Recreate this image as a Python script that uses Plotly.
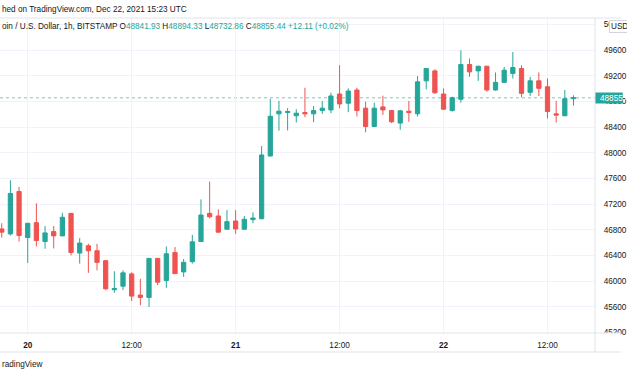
import pandas as pd
import plotly.graph_objects as go

# ---- data (BTC/USD 1h, Bitstamp) ----
start_time = "2021-12-19 21:00"
opens = [46813, 46735, 47396, 46678, 46910, 46616, 46771, 46704, 47055, 46437,
         46550, 46473, 46318, 45865, 45921, 46112, 45782, 45746, 46354, 46009,
         46446, 46143, 46302, 46616, 47055, 47014, 46808, 46937, 46808, 46957,
         46971, 47949, 48606, 48626, 48575, 48626, 48606, 48657, 48667, 48915,
         48771, 48977, 48694, 48409, 48714, 48657, 48462, 48647, 48606, 49120,
         49275, 48915, 48657, 48833, 49374, 49275, 49348, 48977, 49096, 49235,
         49312, 48941, 49120, 49028, 48606, 48575, 48841.93]
highs = [46901, 47570, 47467, 46905, 47210, 46859, 46859, 47065, 47062, 46669,
         46581, 46581, 46322, 46153, 46168, 46137, 46035, 46357, 46357, 46539,
         46530, 46344, 46720, 47272, 47550, 47117, 47106, 47106, 47014, 47071,
         48104, 48841, 48807, 48694, 48678, 49012, 48729, 48807, 48935, 49363,
         49003, 49012, 48796, 48780, 48889, 48667, 48667, 48807, 49193, 49317,
         49301, 49003, 48873, 49595, 49467, 49352, 49352, 49250, 49337, 49569,
         49363, 49182, 49250, 49157, 48807, 48977, 48894.33]
lows = [46678, 46709, 46616, 46282, 46539, 46503, 46508, 46700, 46400, 46272,
        46128, 46168, 45859, 45819, 45859, 45689, 45622, 45596, 45936, 45896,
        46112, 46066, 46272, 46612, 46978, 46757, 46802, 46735, 46802, 46901,
        46965, 47945, 48343, 48347, 48471, 48555, 48477, 48606, 48616, 48694,
        48632, 48564, 48317, 48400, 48590, 48462, 48358, 48482, 48564, 48987,
        48915, 48667, 48641, 48780, 49182, 49120, 48950, 48967, 49092, 49157,
        48863, 48884, 48884, 48533, 48471, 48571, 48732.86]
closes = [46762, 47365, 46709, 46901, 46632, 46751, 46704, 46994, 46446, 46592,
          46473, 46292, 45880, 45885, 46128, 45766, 45746, 46354, 45983, 46426,
          46116, 46292, 46612, 47029, 47003, 46762, 46926, 46813, 46963, 46983,
          47965, 48568, 48647, 48641, 48616, 48606, 48657, 48694, 48884, 48760,
          48961, 48657, 48409, 48694, 48667, 48482, 48652, 48626, 49105, 49312,
          48935, 48678, 48858, 49374, 49260, 49348, 48977, 49096, 49286, 49328,
          48925, 49120, 49003, 48641, 48586, 48842, 48855.44]

x_tick_times = ["2021-12-20 00:00", "2021-12-20 12:00", "2021-12-21 00:00",
                "2021-12-21 12:00", "2021-12-22 00:00", "2021-12-22 12:00"]
x_tick_labels = ["<b>20</b>", "12:00", "<b>21</b>", "12:00", "<b>22</b>", "12:00"]
y_tick_values = [45200, 45600, 46000, 46400, 46800, 47200, 47600, 48000,
                 48400, 48800, 49200, 49600, 50000]
y_tick_labels = [str(v) for v in y_tick_values]
last_price = 48855.44

times = pd.date_range(start_time, periods=len(opens), freq="h")

UP = "#26a69a"
DOWN = "#ef5350"
TXT = "#131722"
GRID = "#f0f3fa"
SEP = "#e0e3eb"
FONT = "Liberation Sans"
FS = 8.2

W, H = 627, 376
L, R, T, B = 0, 26, 18, 43
PW, PH = W - L - R, H - T - B


def px_x(px):
    return (px - L) / PW


def px_y(py):
    return (H - B - py) / PH


fig = go.Figure(go.Candlestick(
    x=times, open=opens, high=highs, low=lows, close=closes,
    increasing=dict(line=dict(color=UP, width=1), fillcolor=UP),
    decreasing=dict(line=dict(color=DOWN, width=1), fillcolor=DOWN),
    whiskerwidth=0, hoverinfo="skip", showlegend=False,
))

shapes = [
    dict(type="line", xref="paper", yref="y", x0=0, x1=1, y0=last_price, y1=last_price,
         line=dict(color=UP, width=1, dash="dot"), opacity=0.6, layer="below"),
    dict(type="rect", xref="paper", yref="paper", x0=1, x1=px_x(W), y0=px_y(352), y1=0,
         fillcolor="white", line=dict(width=0), layer="above"),
    dict(type="rect", xref="paper", yref="paper", x0=1, x1=px_x(W + 2),
         y0=px_y(103.5), y1=px_y(92.5), fillcolor=UP, line=dict(width=0), layer="above"),
    dict(type="line", xref="paper", yref="paper", x0=0, x1=px_x(W), y0=1, y1=1,
         line=dict(color=SEP, width=1), layer="above"),
    dict(type="line", xref="paper", yref="paper", x0=0, x1=px_x(W), y0=0, y1=0,
         line=dict(color=SEP, width=1), layer="above"),
    dict(type="line", xref="paper", yref="paper", x0=0, x1=px_x(W), y0=px_y(352), y1=px_y(352),
         line=dict(color=SEP, width=1), layer="above"),
    dict(type="line", xref="paper", yref="paper", x0=1, x1=1, y0=px_y(352), y1=1,
         line=dict(color=SEP, width=1), layer="above"),
]

ohlc = (f'<span style="color:{TXT}">O</span><span style="color:{UP}">{opens[-1]:.2f}</span> '
        f'<span style="color:{TXT}">H</span><span style="color:{UP}">{highs[-1]:.2f}</span> '
        f'<span style="color:{TXT}">L</span><span style="color:{UP}">{lows[-1]:.2f}</span> '
        f'<span style="color:{TXT}">C</span><span style="color:{UP}">{closes[-1]:.2f}</span> '
        f'<span style="color:{UP}">+12.11 (+0.02%)</span>')

annotations = [
    dict(xref="paper", yref="paper", x=px_x(0), y=px_y(9), xanchor="left", yanchor="middle",
         text="hed on TradingView.com, Dec 22, 2021 15:23 UTC", showarrow=False,
         font=dict(family=FONT, size=FS, color=TXT)),
    dict(xref="paper", yref="paper", x=px_x(0), y=px_y(26.5), xanchor="left", yanchor="middle",
         text="oin / U.S. Dollar, 1h, BITSTAMP " + ohlc, showarrow=False,
         font=dict(family=FONT, size=FS, color=TXT)),
    dict(xref="paper", yref="paper", x=px_x(0), y=px_y(364), xanchor="left", yanchor="middle",
         text="radingView", showarrow=False, font=dict(family=FONT, size=FS, color=TXT)),
    dict(xref="paper", yref="paper", x=px_x(604), y=px_y(98), xanchor="left", yanchor="middle",
         text=f"{last_price:.2f}", showarrow=False, font=dict(family=FONT, size=FS, color="white")),
    dict(xref="paper", yref="paper", x=px_x(615), y=px_y(26.5), xanchor="left", yanchor="middle",
         text="USD", showarrow=False, bgcolor="white", bordercolor="#d1d4dc", borderwidth=1,
         borderpad=1, font=dict(family=FONT, size=FS, color=TXT)),
]

fig.update_layout(
    width=W, height=H, margin=dict(l=L, r=R, t=T, b=B),
    paper_bgcolor="white", plot_bgcolor="white",
    font=dict(family=FONT, size=FS, color=TXT),
    shapes=shapes, annotations=annotations, hovermode=False,
    xaxis=dict(
        type="date", range=["2021-12-19 20:48", "2021-12-22 17:29"],
        rangeslider=dict(visible=False), showgrid=True, gridcolor=GRID, gridwidth=1,
        tickvals=x_tick_times, ticktext=x_tick_labels, ticks="outside", ticklen=4,
        tickcolor="rgba(0,0,0,0)", showline=False, zeroline=False,
        tickfont=dict(family=FONT, size=FS, color=TXT),
    ),
    yaxis=dict(
        side="right", range=[45191, 50099], showgrid=True, gridcolor=GRID, gridwidth=1,
        tickvals=y_tick_values, ticktext=y_tick_labels, ticks="outside", ticklen=6,
        tickcolor="rgba(0,0,0,0)", showline=False, zeroline=False,
        tickfont=dict(family=FONT, size=FS, color=TXT),
    ),
)

fig.write_html("out.html", config={"displayModeBar": False},
               post_script="document.body.style.margin='0';")
